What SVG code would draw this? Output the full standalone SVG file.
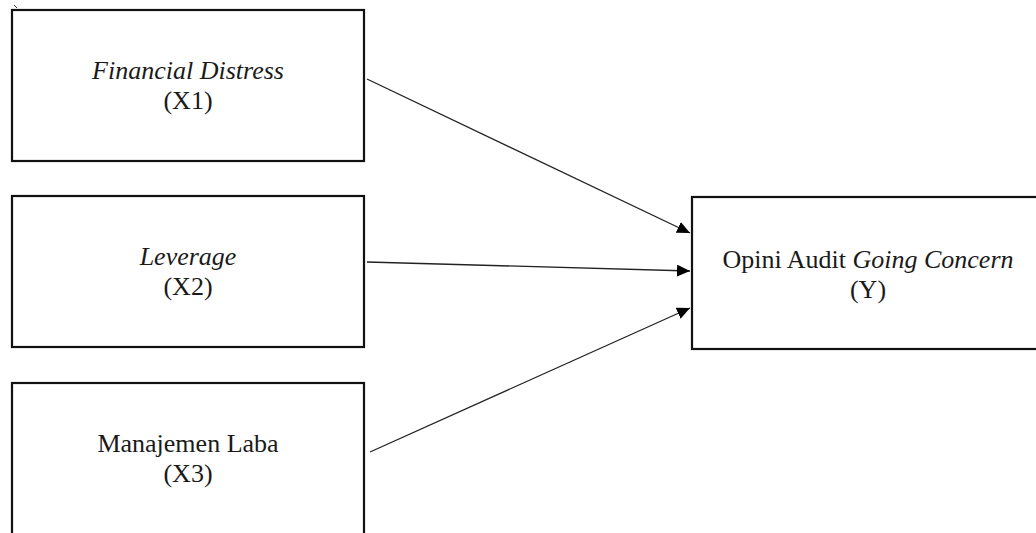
<svg xmlns="http://www.w3.org/2000/svg" width="1036" height="533" viewBox="0 0 1036 533">
<style>
.box{fill:#fff;stroke:#111;stroke-width:2.2}
.t{font-family:"Liberation Serif","Times New Roman",serif;font-size:26px;fill:#1a1a1a;text-anchor:middle}
.i{font-style:italic}
.c{stroke:#222;stroke-width:1.3;fill:none;marker-end:url(#ah)}
</style>
<defs>
<marker id="ah" markerUnits="userSpaceOnUse" markerWidth="14" markerHeight="12" refX="13" refY="6" orient="auto">
<path d="M0,0 L13,6 L0,12 Z" fill="#000"/>
</marker>
</defs>
<rect width="1036" height="533" fill="#fff"/>
<line x1="14" y1="5" x2="17" y2="8" stroke="#333" stroke-width="1"/>
<g id="x1">
<rect class="box" x="12" y="10" width="352" height="151"/>
<text class="t i" x="188" y="79">Financial Distress</text>
<text class="t" x="188" y="109">(X1)</text>
</g>
<g id="x2">
<rect class="box" x="12" y="196" width="352" height="151"/>
<text class="t i" x="188" y="265">Leverage</text>
<text class="t" x="188" y="295">(X2)</text>
</g>
<g id="x3">
<rect class="box" x="12" y="383" width="352" height="170"/>
<text class="t" x="188" y="452">Manajemen Laba</text>
<text class="t" x="188" y="482">(X3)</text>
</g>
<g id="y">
<rect class="box" x="692" y="197" width="352" height="152"/>
<text class="t" x="868" y="268">Opini Audit <tspan class="i">Going Concern</tspan></text>
<text class="t" x="868" y="298">(Y)</text>
</g>
<g id="connectors">
<line class="c" x1="367" y1="79" x2="690" y2="233"/>
<line class="c" x1="367" y1="262" x2="690" y2="271"/>
<line class="c" x1="370" y1="452" x2="690" y2="308"/>
</g>
</svg>
